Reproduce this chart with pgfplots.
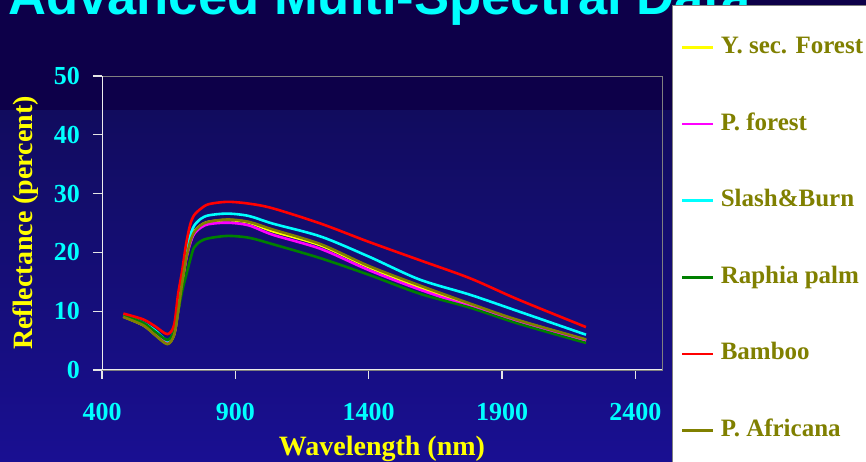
\documentclass[border=0pt]{standalone}
\usepackage{fontspec}
\setmainfont{Liberation Serif}
\newfontfamily\titlefont{Liberation Sans}
\usepackage{pgfplots}
\usepackage{pgfplotstable}
\pgfplotsset{compat=1.18}
\definecolor{bgtop}{HTML}{0D0049}
\definecolor{bgmid}{HTML}{110C5E}
\definecolor{bgbot}{HTML}{190F92}
\definecolor{olivec}{HTML}{808000}
\definecolor{greenc}{HTML}{008000}
\definecolor{cyanc}{HTML}{00FFFF}
\definecolor{yellowc}{HTML}{FFFF00}
\definecolor{magentac}{HTML}{FF00FF}
\definecolor{redc}{HTML}{FF0000}

\pgfplotstableread{
x y
480 9.1
555 7.6
600 6.0
645 4.5
670 6.0
685 10.0
700 14.8
715 19.0
730 21.8
745 23.5
770 24.6
800 25.2
870 25.5
950 25.1
1040 23.6
1220 21.2
1400 17.5
1590 14.1
1780 11.0
1960 8.4
2215 5.1
}\tabysec
\pgfplotstableread{
x y
480 9.1
555 7.7
600 6.0
645 4.6
670 6.0
685 10.0
700 14.6
715 18.7
730 21.4
745 23.1
770 24.2
800 24.8
870 25.05
950 24.6
1040 23.0
1220 20.6
1400 17.0
1590 13.7
1780 10.8
1960 8.2
2215 5.0
}\tabpforest
\pgfplotstableread{
x y
480 9.3
555 8.0
600 6.7
645 5.0
670 6.5
685 10.5
700 15.5
715 20.0
730 22.7
745 24.5
770 25.7
800 26.3
870 26.6
950 26.2
1040 24.9
1220 22.7
1400 19.3
1590 15.4
1780 12.8
1960 10.0
2215 6.0
}\tabslashburn
\pgfplotstableread{
x y
480 9.3
555 8.0
600 6.5
645 5.1
670 6.5
685 9.8
700 13.3
715 16.0
730 18.6
745 20.8
770 21.9
800 22.4
870 22.8
950 22.5
1040 21.4
1220 19.0
1400 16.2
1590 13.0
1780 10.6
1960 7.9
2215 4.6
}\tabraphia
\pgfplotstableread{
x y
480 9.6
555 8.6
600 7.4
645 6.1
670 7.6
685 12.8
700 16.7
715 21.3
730 24.6
745 26.3
770 27.4
800 28.2
870 28.6
950 28.3
1040 27.5
1220 24.9
1400 21.8
1590 18.7
1780 15.6
1960 12.0
2215 7.3
}\tabbamboo
\pgfplotstableread{
x y
480 9.0
555 7.6
600 5.9
645 4.4
670 5.9
685 9.8
700 14.6
715 18.8
730 21.7
745 23.4
770 24.6
800 25.2
870 25.6
950 25.2
1040 23.9
1220 21.4
1400 17.7
1590 14.4
1780 11.3
1960 8.5
2215 5.2
}\tabpafricana

\begin{document}
\begin{tikzpicture}[x=1pt,y=1pt]
\useasboundingbox (0,0) rectangle (866,462);
\clip (0,0) rectangle (866,462);
\fill[bgtop] (0,351) rectangle (866,462);
\shade[top color=bgmid, bottom color=bgbot] (0,0) rectangle (866,351);
\node[anchor=base west, inner sep=0pt, text=cyanc, font=\titlefont\bfseries\fontsize{52.6}{56}\selectfont] at (8,447) {Advanced Multi-Spectral Data};
\fill[white] (672,-10) rectangle (880,456);
\draw[gray, line width=1pt] (672,-10) -- (672,456) -- (880,456);
\begin{axis}[
  at={(102pt,92pt)}, anchor=south west,
  scale only axis, width=560pt, height=294pt,
  xmin=400, xmax=2500, ymin=0, ymax=50,
  xtick={400,900,1400,1900,2400}, ytick={0,10,20,30,40,50},
  xtick pos=left, ytick pos=left,
  tick align=outside, major tick length=9pt,
  tick style={color=white!80!gray, line width=1.2pt},
  axis line style={draw=gray, line width=0.8pt},
  /pgf/number format/assume math mode=true,
  /pgf/number format/1000 sep={},
  ticklabel style={font=\bfseries\fontsize{26}{26}\selectfont, text=cyanc, inner sep=0pt},
  xticklabel style={anchor=north},
  xticklabel shift=24pt,
  yticklabel style={anchor=east},
  yticklabel shift=13pt,
  xlabel={Wavelength (nm)}, ylabel={Reflectance (percent)},
  label style={font=\bfseries\fontsize{28}{28}\selectfont, text=yellowc, inner sep=0pt},
  xlabel style={at={(axis description cs:0.5,-0.2245)}, anchor=north},
  ylabel style={at={(axis description cs:-0.1357,0.5)}, anchor=center},
  legend cell align=left,
  legend image code/.code={\draw[#1, line width=2.6pt] (0pt,0pt) -- (31pt,0pt);},
  legend style={at={(axis description cs:1.0339,1.1384)}, anchor=north west,
    draw=none, fill=none, inner sep=0pt, row sep=52.6pt,
    font=\bfseries\fontsize{25}{25}\selectfont, text=olivec,
    nodes={inner sep=0pt, text height=18pt, text depth=6pt},
    /tikz/every odd column/.style={column sep=6pt}},
  every axis plot/.append style={line width=2.6pt, smooth, tension=0.5},
]
\addplot[color=yellowc] table {\tabysec};
\addlegendentry{Y. sec. Forest}
\addplot[color=magentac] table {\tabpforest};
\addlegendentry{P. forest}
\addplot[color=cyanc] table {\tabslashburn};
\addlegendentry{Slash\&Burn}
\addplot[color=greenc] table {\tabraphia};
\addlegendentry{Raphia palm}
\addplot[color=redc] table {\tabbamboo};
\addlegendentry{Bamboo}
\addplot[color=olivec] table {\tabpafricana};
\addlegendentry{P. Africana}
\draw[white!85!gray, line width=1.5pt] (rel axis cs:0,1) -- (rel axis cs:0,0) -- (rel axis cs:1,0);
\end{axis}
\end{tikzpicture}
\end{document}
